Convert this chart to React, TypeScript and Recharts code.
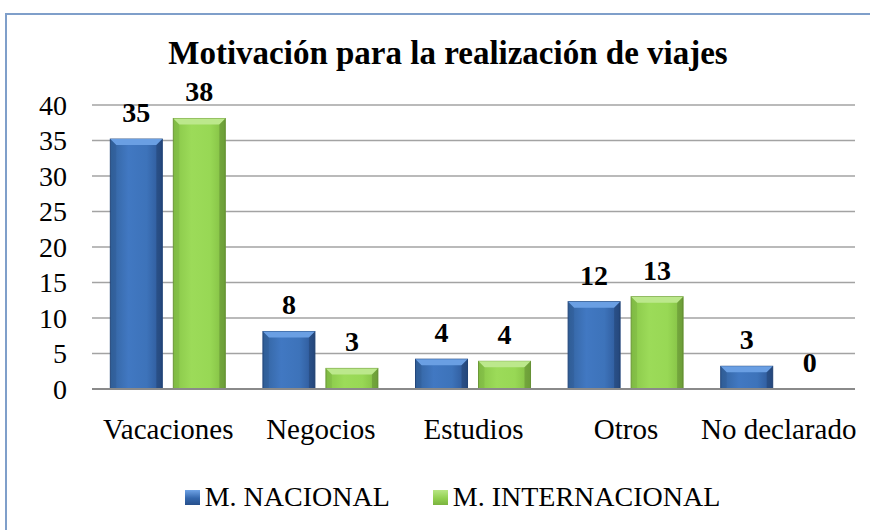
import { BarChart, Bar, XAxis, YAxis, CartesianGrid, Legend, LabelList } from 'recharts'

const categories = ['Vacaciones', 'Negocios', 'Estudios', 'Otros', 'No declarado']
const nacional = [35.2, 8.1, 4.2, 12.3, 3.2]
const internacional = [38.1, 2.9, 3.9, 13.0, 0]
const yTicks = [0, 5, 10, 15, 20, 25, 30, 35, 40]

const FONT = '"Liberation Serif", "Times New Roman", Tinos, FreeSerif, serif'

const data = categories.map((name, i) => ({
  name,
  nacional: nacional[i],
  internacional: internacional[i],
}))

// bevelled bar like the office chart style
function BevelBar(props: any) {
  const { x, y, width, height, gradId, top, edge } = props
  if (!height || height <= 0) return null
  const b = Math.min(6, height / 2, width / 2)
  return (
    <g>
      <rect x={x} y={y} width={width} height={height} fill={`url(#${gradId})`} stroke={edge} strokeWidth={1} />
      <polygon points={`${x},${y} ${x + width},${y} ${x + width - b},${y + b} ${x + b},${y + b}`} fill={top} />
      <polygon points={`${x},${y} ${x + b},${y + b} ${x + b},${y + height} ${x},${y + height}`} fill="rgba(0,0,0,0.06)" />
      <polygon points={`${x + width},${y} ${x + width - b},${y + b} ${x + width - b},${y + height} ${x + width},${y + height}`} fill="rgba(0,0,0,0.16)" />
    </g>
  )
}

function LegendContent() {
  const item = (label: string, bg: string) => (
    <div style={{ display: 'flex', alignItems: 'center', gap: 5 }}>
      <div style={{ width: 15, height: 15, background: bg }} />
      <span>{label}</span>
    </div>
  )
  return (
    <div style={{
      display: 'flex', justifyContent: 'center', gap: 43, fontFamily: FONT, fontSize: 28,
      color: '#000', height: 40, alignItems: 'center', paddingLeft: 50,
    }}>
      {item('M. NACIONAL', 'linear-gradient(#6fa3e6, #3467ad 55%, #27508c)')}
      {item('M. INTERNACIONAL', 'linear-gradient(#b8e685, #92d050 55%, #7bb33f)')}
    </div>
  )
}

const labelStyle = { fontFamily: FONT, fontSize: 28, fontWeight: 'bold', fill: '#000' }

export default function App() {
  return (
    <div style={{ position: 'fixed', left: 0, top: 0, width: 870, height: 530, background: '#fff', overflow: 'hidden' }}>
      <div style={{
        position: 'absolute', left: 5, top: 13, width: 900, height: 560,
        borderLeft: '2px solid #7f9fca', borderTop: '2px solid #7f9fca',
      }} />
      <div style={{
        position: 'absolute', left: 0, top: 37, width: 896, textAlign: 'center',
        fontFamily: FONT, fontSize: 33, lineHeight: '33px', fontWeight: 'bold', color: '#000',
      }}>
        Motivación para la realización de viajes
      </div>
      <div style={{ position: 'absolute', left: 0, top: 0 }}>
        <BarChart
          width={870}
          height={530}
          data={data}
          margin={{ top: 105, right: 15, left: 0, bottom: 13 }}
          barCategoryGap="12%"
          barGap={11}
        >
          <defs>
            <linearGradient id="gBlue" x1="0" y1="0" x2="1" y2="0">
              <stop offset="0%" stopColor="#33639f" />
              <stop offset="35%" stopColor="#4178c2" />
              <stop offset="70%" stopColor="#3d73ba" />
              <stop offset="100%" stopColor="#2c5594" />
            </linearGradient>
            <linearGradient id="gGreen" x1="0" y1="0" x2="1" y2="0">
              <stop offset="0%" stopColor="#88c648" />
              <stop offset="35%" stopColor="#9cdb59" />
              <stop offset="70%" stopColor="#98d855" />
              <stop offset="100%" stopColor="#81bc42" />
            </linearGradient>
          </defs>
          <CartesianGrid vertical={false} stroke="#a3a3a3" strokeWidth={1.5} />
          <XAxis
            dataKey="name"
            height={88}
            tickLine={false}
            tickSize={0}
            tickMargin={29}
            axisLine={{ stroke: '#8a8a8a', strokeWidth: 2 }}
            tick={{ fontFamily: FONT, fontSize: 29, fill: '#000' }}
            interval={0}
          />
          <YAxis
            width={92}
            domain={[0, 40]}
            ticks={yTicks}
            interval={0}
            axisLine={false}
            tickLine={false}
            tickSize={0}
            tickMargin={25}
            tick={{ fontFamily: FONT, fontSize: 28, fill: '#000' }}
          />
          <Legend verticalAlign="bottom" content={<LegendContent />} />
          <Bar
            dataKey="nacional"
            name="M. NACIONAL"
            fill="#3d73ba"
            isAnimationActive={false}
            shape={(p: any) => <BevelBar {...p} gradId="gBlue" top="#6a9fe3" edge="#24497f" />}
          >
            <LabelList dataKey="nacional" position="top" offset={17} formatter={(v: any) => Math.round(v)} style={labelStyle} />
          </Bar>
          <Bar
            dataKey="internacional"
            name="M. INTERNACIONAL"
            fill="#98d855"
            isAnimationActive={false}
            shape={(p: any) => <BevelBar {...p} gradId="gGreen" top="#bce88c" edge="#6f9d3a" />}
          >
            <LabelList dataKey="internacional" position="top" offset={17} formatter={(v: any) => Math.round(v)} style={labelStyle} />
          </Bar>
        </BarChart>
      </div>
    </div>
  )
}
